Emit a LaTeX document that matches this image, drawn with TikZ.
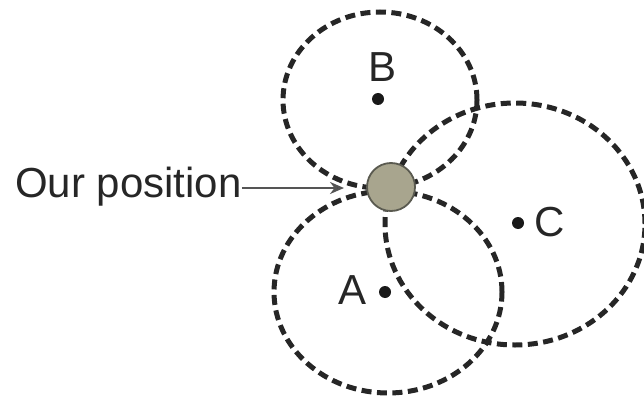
\documentclass[tikz,border=0pt]{standalone}
\usepackage{fontspec}
\setmainfont{Liberation Sans}
\usetikzlibrary{arrows.meta}
\definecolor{posfill}{HTML}{A8A58E}
\definecolor{posline}{HTML}{5A5A50}
\definecolor{arrowgray}{HTML}{555555}
\tikzset{
  rangecircle/.style={draw=black!85, line width=5pt, dash pattern=on 10pt off 5.5pt},
  beacon/.style={circle, fill=black!90, inner sep=0pt, minimum size=12pt},
  letter/.style={font=\fontsize{42}{48}\selectfont, inner sep=0pt, text=black!85},
  posnode/.style={circle, draw=posline, line width=1.8pt, fill=posfill, inner sep=0pt, minimum size=48pt},
  pointer/.style={draw=arrowgray, line width=2.2pt, -{Stealth[length=14pt,width=12pt,fill=black]}}
}
\begin{document}
\begin{tikzpicture}[x=1pt,y=-1pt]
\useasboundingbox (0,0) rectangle (644,398);
% range circles
\draw[rangecircle] (380,100) ellipse [x radius=97pt, y radius=88pt];
\draw[rangecircle] (388,292) ellipse [x radius=114pt, y radius=101pt];
\draw[rangecircle] (515,224) ellipse [x radius=130pt, y radius=121pt];
% beacons
\node[beacon] (dB) at (378,99) {};
\node[beacon] (dA) at (385,292) {};
\node[beacon] (dC) at (518,223) {};
\node[letter] (lB) at (383,67) {B};
\node[letter] (lA) at (353,290) {A};
\node[letter] (lC) at (550,222) {C};
% our position
\node[posnode] (pos) at (391,187) {};
\node[letter, anchor=base west] (lbl) at (15,197) {Our position};
\coordinate (tip) at (344,188);
\draw[pointer] (lbl.east |- tip) -- (tip);
\end{tikzpicture}
\end{document}
